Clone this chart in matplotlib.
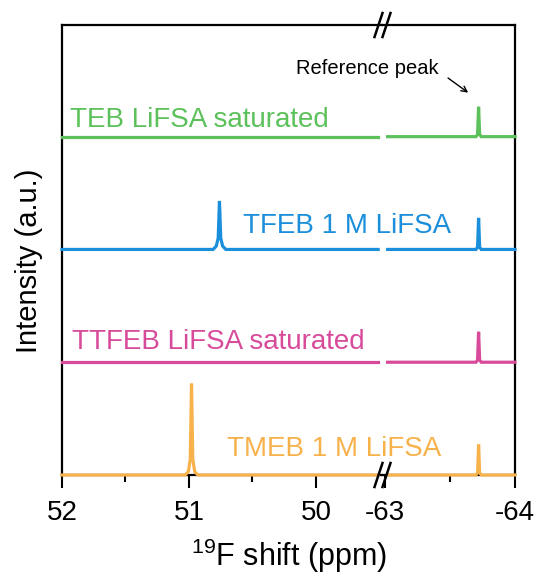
import matplotlib
matplotlib.use("Agg")
import matplotlib.pyplot as plt

plt.rcParams['font.family'] = ['Liberation Sans', 'DejaVu Sans']
plt.rcParams['mathtext.fontset'] = 'custom'
plt.rcParams['mathtext.rm'] = 'Liberation Sans'
plt.rcParams['mathtext.it'] = 'Liberation Sans:italic'
plt.rcParams['mathtext.bf'] = 'Liberation Sans:bold'

# ---- data (19F shift in ppm, relative intensity) ----
labels = ["TMEB 1 M LiFSA", "TTFEB LiFSA saturated", "TFEB 1 M LiFSA", "TEB LiFSA saturated"]
colors = ["#f7b24c", "#d84b9b", "#1b8fdb", "#5cc15a"]

# left segment (52 .. 49.5 ppm)
left_x = {
    "TMEB 1 M LiFSA": [52.0, 51.03, 51.005, 50.99, 50.98, 50.97, 50.955, 50.93, 49.51],
    "TTFEB LiFSA saturated": [52.0, 49.51],
    "TFEB 1 M LiFSA": [52.0, 50.81, 50.785, 50.77, 50.76, 50.75, 50.735, 50.71, 49.51],
    "TEB LiFSA saturated": [52.0, 49.51],
}
left_y = {
    "TMEB 1 M LiFSA": [0, 0, 0.03, 0.14, 0.81, 0.14, 0.03, 0, 0],
    "TTFEB LiFSA saturated": [0, 0],
    "TFEB 1 M LiFSA": [0, 0, 0.03, 0.10, 0.43, 0.10, 0.03, 0, 0],
    "TEB LiFSA saturated": [0, 0],
}
# right segment (-63 .. -64 ppm), reference peak
right_x = [-63.02, -63.70, -63.712, -63.72, -63.728, -63.74, -64.0]
right_y = {
    "TMEB 1 M LiFSA": [0, 0, 0.02, 0.27, 0.02, 0, 0],
    "TTFEB LiFSA saturated": [0, 0, 0.02, 0.27, 0.02, 0, 0],
    "TFEB 1 M LiFSA": [0, 0, 0.02, 0.28, 0.02, 0, 0],
    "TEB LiFSA saturated": [0, 0, 0.02, 0.265, 0.02, 0, 0],
}
offsets = [0, 1, 2, 3]

left_ticks = [52, 51, 50]
left_minor = [51.5, 50.5]
right_ticks = [-63, -64]
right_minor = [-63.5]

# ---- figure ----
W, H = 540, 577
fig = plt.figure(figsize=(W / 100, H / 100), dpi=100)
L, R, T, B, BRK = 62, 515, 25, 475, 382
ax1 = fig.add_axes([L / W, 1 - B / H, (BRK - L) / W, (B - T) / H])
ax2 = fig.add_axes([BRK / W, 1 - B / H, (R - BRK) / W, (B - T) / H])
ax2.patch.set_visible(False)

for lab, col, off in zip(labels, colors, offsets):
    ax1.plot(left_x[lab], [v + off for v in left_y[lab]], color=col, lw=2.3, clip_on=False,
             solid_joinstyle='miter', zorder=3)
    ax2.plot(right_x, [v + off for v in right_y[lab]], color=col, lw=2.3, clip_on=False,
             solid_joinstyle='miter', zorder=3)

ax1.set_xlim(52, 49.48)
ax2.set_xlim(-62.977, -64)
for ax in (ax1, ax2):
    ax.set_ylim(0, 3.99)
    ax.set_yticks([])
    for s in ax.spines.values():
        s.set_linewidth(1.6)
    ax.tick_params(axis='x', which='major', direction='out', length=9, width=1.5,
                   labelsize=20, pad=9)
    ax.tick_params(axis='x', which='minor', direction='out', length=5, width=1.5)
ax1.spines['right'].set_visible(False)
ax2.spines['left'].set_visible(False)
ax1.set_xticks(left_ticks)
ax1.set_xticks(left_minor, minor=True)
ax1.set_xticklabels([str(t) for t in left_ticks])
ax2.set_xticks(right_ticks)
ax2.set_xticks(right_minor, minor=True)
ax2.set_xticklabels([str(t) for t in right_ticks])

# break marks
for yy in (T, B):
    for cx in (378.5, 386.5):
        fig.add_artist(plt.Line2D([(cx - 4) / W, (cx + 4) / W],
                                  [1 - (yy + 12) / H, 1 - (yy - 12) / H],
                                  color='black', lw=1.8, transform=fig.transFigure))

# series labels
label_pos = {
    "TEB LiFSA saturated": (51.94, 3.09),
    "TFEB 1 M LiFSA": (50.575, 2.15),
    "TTFEB LiFSA saturated": (51.92, 1.115),
    "TMEB 1 M LiFSA": (50.70, 0.17),
}
for lab, col in zip(labels, colors):
    x, y = label_pos[lab]
    ax1.text(x, y, lab, color=col, fontsize=20, ha='left', va='baseline', clip_on=False, zorder=4)

# reference peak annotation
ax2.text(-63.41, 3.60, "Reference peak", fontsize=14.5, ha='right', va='center', clip_on=False)
ax2.annotate("", xy=(-63.64, 3.39), xytext=(-63.485, 3.52),
             arrowprops=dict(arrowstyle='->', color='black', lw=1.0, shrinkA=0, shrinkB=0),
             annotation_clip=False)

fig.text((L + R) / 2 / W + 1 / W, 1 - 556 / H, r"$^{19}$F shift (ppm)", fontsize=22, ha='center', va='center')
fig.text(29 / W, 1 - 261 / H, "Intensity (a.u.)", fontsize=21, ha='center', va='center', rotation=90)

fig.savefig("out.png", dpi=100)
